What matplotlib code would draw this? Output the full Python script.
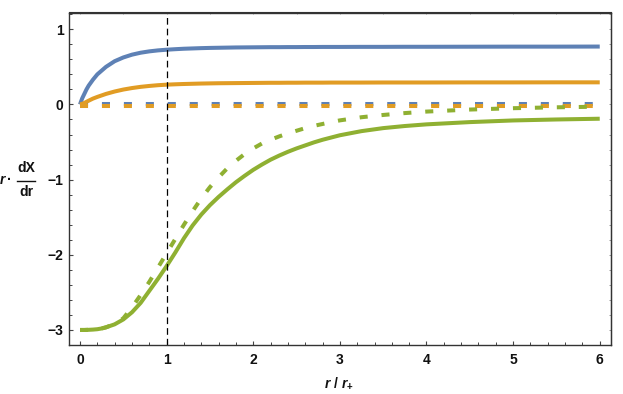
import matplotlib
matplotlib.use("Agg")
import matplotlib.pyplot as plt
from matplotlib.lines import Line2D
from matplotlib.ticker import MultipleLocator, NullFormatter

plt.rcParams['font.family'] = ['Liberation Sans', 'DejaVu Sans']
plt.rcParams['font.weight'] = 'bold'
plt.rcParams['mathtext.fontset'] = 'custom'
plt.rcParams['mathtext.rm'] = 'Liberation Sans:bold'
plt.rcParams['mathtext.it'] = 'Liberation Sans:italic:bold'
plt.rcParams['lines.scale_dashes'] = False

# radial grid (r / r+) for the curves
r = [0, 0.025, 0.05, 0.075, 0.1, 0.15, 0.2, 0.25, 0.3,
     0.4, 0.5, 0.6, 0.7, 0.8, 0.9, 1.0, 1.1, 1.2, 1.3, 1.4, 1.5, 1.6, 1.7, 1.8, 1.9,
     2.0, 2.1, 2.2, 2.3, 2.4, 2.5, 2.6, 2.7, 2.8, 2.9, 3.0,
     3.25, 3.5, 3.75, 4.0, 4.5, 5.0, 5.5, 6.0]

blue_solid = [0, 0.08, 0.14, 0.2, 0.25, 0.33, 0.40, 0.45, 0.50,
              0.575, 0.625, 0.662, 0.688, 0.706, 0.719, 0.728, 0.735, 0.741, 0.745, 0.749,
              0.752, 0.754, 0.756, 0.758, 0.759,
              0.76, 0.761, 0.762, 0.762, 0.763, 0.763, 0.764, 0.764, 0.765, 0.765, 0.765,
              0.766, 0.766, 0.767, 0.767, 0.768, 0.769, 0.769, 0.77]
orange_solid = [0, 0.008, 0.02, 0.035, 0.05, 0.078, 0.10, 0.12, 0.14,
                0.172, 0.198, 0.218, 0.234, 0.246, 0.256, 0.263, 0.268, 0.272, 0.275, 0.278,
                0.28, 0.282, 0.283, 0.284, 0.285,
                0.286, 0.287, 0.288, 0.288, 0.289, 0.289, 0.29, 0.29, 0.29, 0.291, 0.291,
                0.291, 0.292, 0.292, 0.292, 0.293, 0.293, 0.294, 0.294]
green_solid = [-3.0, -3.0, -3.0, -2.999, -2.998, -2.995, -2.99, -2.98, -2.965,
               -2.925, -2.86, -2.765, -2.64, -2.48, -2.32, -2.15, -1.97, -1.78, -1.61, -1.465,
               -1.34, -1.23, -1.13, -1.035, -0.95,
               -0.87, -0.80, -0.735, -0.68, -0.63, -0.585, -0.545, -0.505, -0.47, -0.44, -0.41,
               -0.355, -0.315, -0.287, -0.265, -0.235, -0.213, -0.2, -0.19]
green_dashed = [-3.0, -3.0, -3.0, -2.999, -2.998, -2.995, -2.99, -2.98, -2.965,
                -2.92, -2.845, -2.70, -2.535, -2.36, -2.17, -1.98, -1.79, -1.6, -1.42, -1.25,
                -1.10, -0.97, -0.85, -0.75, -0.66,
                -0.585, -0.52, -0.47, -0.425, -0.385, -0.35, -0.315, -0.285, -0.26, -0.235, -0.212,
                -0.17, -0.14, -0.115, -0.095, -0.068, -0.05, -0.038, -0.03]

r_flat = [0, 6]
blue_dashed = [0.01, 0.01]
orange_dashed = [-0.015, -0.015]

BLUE = '#5E81B5'
ORANGE = '#E19C24'
GREEN = '#8FB032'

fig = plt.figure(figsize=(6.23, 3.94), dpi=100)
ax = fig.add_axes([69 / 623, 1 - 345 / 394, (611 - 69) / 623, (345 - 12.5) / 394])

lw = 2.9
dash = (0, (5.8, 10.0))
ax.plot(r_flat, blue_dashed, color=BLUE, lw=lw, linestyle=dash, dash_capstyle='butt')
ax.plot(r_flat, orange_dashed, color=ORANGE, lw=lw, linestyle=dash, dash_capstyle='butt')
ax.plot(r, green_dashed, color=GREEN, lw=lw, linestyle=dash, dash_capstyle='butt')
ax.plot(r, blue_solid, color=BLUE, lw=lw, solid_capstyle='butt')
ax.plot(r, orange_solid, color=ORANGE, lw=lw, solid_capstyle='butt')
ax.plot(r, green_solid, color=GREEN, lw=lw, solid_capstyle='butt')

ax.axvline(1, color='black', lw=0.9, linestyle=(0, (4.8, 2.9)))

ax.set_xlim(-0.127, 6.13)
ax.set_ylim(-3.2, 1.223)

frame = '#333333'
for s in ax.spines.values():
    s.set_color(frame)
    s.set_linewidth(1.0)

ax.xaxis.set_major_locator(MultipleLocator(1))
ax.xaxis.set_minor_locator(MultipleLocator(0.2))
ax.yaxis.set_major_locator(MultipleLocator(1))
ax.yaxis.set_minor_locator(MultipleLocator(0.2))
ax.tick_params(which='both', direction='in', top=False, right=False, color='#444444')
ax.tick_params(which='major', length=3.0, width=0.8, labelsize=10, labelcolor='#111111')
ax.tick_params(which='minor', length=1.9, width=0.7)
ax.tick_params(axis='x', which='major', pad=5.5)
ax.tick_params(axis='y', which='major', pad=4)
ax.yaxis.set_major_formatter(plt.FuncFormatter(lambda v, p: f"{int(v)}".replace('-', '\u2212')))

top = ax.secondary_xaxis('top')
top.xaxis.set_major_locator(MultipleLocator(0.5))
top.xaxis.set_major_formatter(NullFormatter())
top.tick_params(direction='in', length=1.6, width=0.7, color='#AAAAAA')
top.spines['top'].set_color(frame)

right = ax.secondary_yaxis('right')
right.yaxis.set_major_locator(MultipleLocator(0.2))
right.yaxis.set_major_formatter(NullFormatter())
right.tick_params(direction='in', length=1.6, width=0.7, color='#999999')
right.spines['right'].set_color(frame)

# y label: r · dX/dr built as a stacked fraction
W, H = 623, 394
tc = '#111111'
fig.text(2.5 / W, 1 - 180 / H, 'r', style='italic', ha='center', va='center', fontsize=10, color=tc)
fig.text(9.5 / W, 1 - 180 / H, '\u00b7', ha='center', va='center', fontsize=10, color=tc)
fig.text(26 / W, 1 - 167.5 / H, 'dX', ha='center', va='center', fontsize=10, color=tc)
fig.text(26 / W, 1 - 191.5 / H, 'dr', ha='center', va='center', fontsize=10, color=tc)
fig.add_artist(Line2D([17 / W, 35 / W], [1 - 181 / H, 1 - 181 / H], color=tc, lw=1.0))

fig.text(339 / W, 1 - 383 / H, r'$r\ /\ r_{+}$',
         ha='center', va='center', fontsize=10, color=tc)

fig.savefig('out.png', dpi=100)
